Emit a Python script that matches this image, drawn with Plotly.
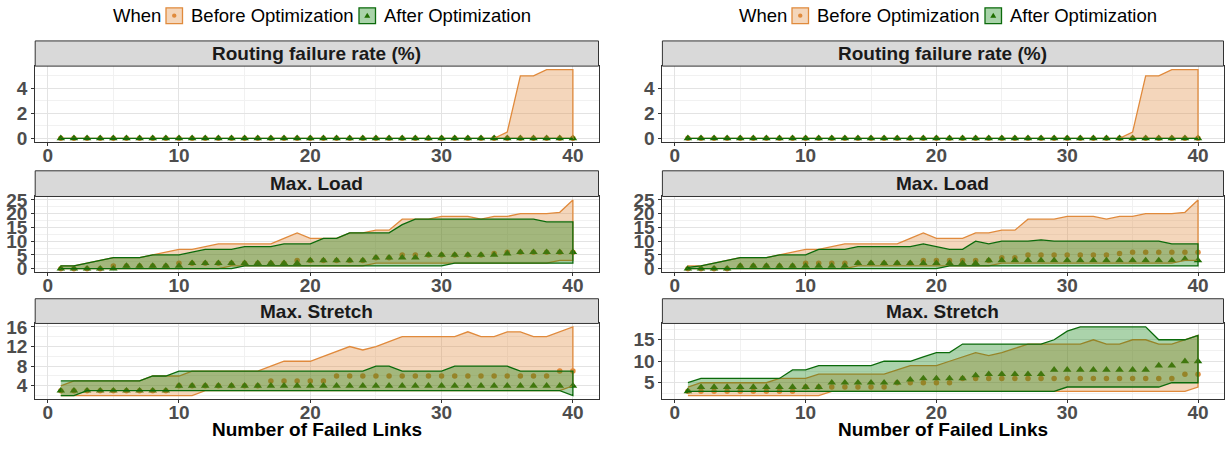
import plotly.graph_objects as go
from plotly.subplots import make_subplots

# ---------------- data ----------------
failed_links = list(range(1, 41))

# Routing failure rate (%) -- same in both panels
rf_before_min = [0, 0, 0, 0, 0, 0, 0, 0, 0, 0, 0, 0, 0, 0, 0, 0, 0, 0, 0, 0,
                 0, 0, 0, 0, 0, 0, 0, 0, 0, 0, 0, 0, 0, 0, 0, 0, 0, 0, 0, 0]
rf_before_max = [0, 0, 0, 0, 0, 0, 0, 0, 0, 0, 0, 0, 0, 0, 0, 0, 0, 0, 0, 0,
                 0, 0, 0, 0, 0, 0, 0, 0, 0, 0, 0, 0, 0, 0, 0.5, 5, 5, 5.5, 5.5, 5.5]
rf_before_med = [0, 0, 0, 0, 0, 0, 0, 0, 0, 0, 0, 0, 0, 0, 0, 0, 0, 0, 0, 0,
                 0, 0, 0, 0, 0, 0, 0, 0, 0, 0, 0, 0, 0, 0, 0, 0, 0, 0, 0, 0]
rf_after_min = [0, 0, 0, 0, 0, 0, 0, 0, 0, 0, 0, 0, 0, 0, 0, 0, 0, 0, 0, 0,
                0, 0, 0, 0, 0, 0, 0, 0, 0, 0, 0, 0, 0, 0, 0, 0, 0, 0, 0, 0]
rf_after_max = [0, 0, 0, 0, 0, 0, 0, 0, 0, 0, 0, 0, 0, 0, 0, 0, 0, 0, 0, 0,
                0, 0, 0, 0, 0, 0, 0, 0, 0, 0, 0, 0, 0, 0, 0, 0, 0, 0, 0, 0]
rf_after_med = [0, 0, 0, 0, 0, 0, 0, 0, 0, 0, 0, 0, 0, 0, 0, 0, 0, 0, 0, 0,
                0, 0, 0, 0, 0, 0, 0, 0, 0, 0, 0, 0, 0, 0, 0, 0, 0, 0, 0, 0]

# Max. Load -- before optimization (same in both panels)
load_before_min = [0, 0, 0, 0, 0, 0, 0, 0, 0, 0, 0, 0, 0, 1, 1, 1, 1, 1, 1, 1,
                   1, 1, 1, 1, 2, 2, 2, 2, 2, 2, 2, 2, 2, 2, 2, 2, 2, 2, 3, 3]
load_before_max = [1, 1, 2, 3, 4, 4, 4, 5, 6, 7, 7, 8, 9, 9, 9, 9, 9, 11, 13, 11,
                   11, 11, 13, 13, 14, 14, 18, 18, 18, 19, 19, 19, 18, 19, 19, 20, 20, 20, 20.5, 25]
load_before_med = [0, 0, 0, 0, 1, 1, 1, 1, 1, 2, 2, 2, 2, 2, 2, 2, 2, 2, 3, 3,
                   3, 3, 3, 3, 4, 4, 5, 5, 5, 5, 5, 5, 5, 5.5, 6, 6, 6, 6, 6, 6]

# Max. Load -- after optimization, left panel
load_after_min_L = [0, 0, 0, 0, 0, 0, 0, 0, 0, 0, 0, 0, 0, 0, 1, 1, 1, 1, 1, 1,
                    1, 1, 1, 1, 1, 1, 1, 1, 1, 1, 2, 2, 2, 2, 2, 2, 2, 2, 2, 2]
load_after_max_L = [1, 1, 2, 3, 4, 4, 4, 5, 5, 5, 6, 7, 7, 7, 8, 8, 8, 9, 9, 9,
                    11, 11, 13, 13, 13, 13, 16, 18, 18, 18, 18, 18, 18, 18, 18, 18, 18, 17, 17, 17]
load_after_med_L = [0, 0, 0, 0, 0, 1, 1, 1, 1, 1, 2, 2, 2, 2, 2, 2, 2, 2, 2, 3,
                    3, 3, 3, 3, 4, 4, 4, 4, 5, 5, 5, 5, 5, 5, 5.5, 6, 6, 6, 6, 6]

# Max. Load -- after optimization, right panel
load_after_min_R = [0, 0, 0, 0, 0, 0, 0, 0, 0, 0, 0, 0, 0, 0, 0, 0, 0, 0, 0, 0,
                    1, 1, 1, 1, 1, 1, 1, 1, 1, 1, 1, 1, 1, 1, 1, 1, 1, 1, 1, 1]
load_after_max_R = [0.5, 1, 2, 3, 4, 4, 4, 5, 5, 5, 7, 7, 7, 8, 8, 8, 8, 8, 9, 8,
                    7, 7, 10, 9, 10, 10, 10, 10.5, 10, 10, 10, 10, 10, 10, 10, 10, 10, 9, 9, 9]
load_after_med_R = [0, 0, 0, 0, 1, 1, 1, 1, 1, 1, 1, 1, 1, 2, 2, 2, 2, 2, 2, 2,
                    2, 2, 2, 3, 3, 3, 3, 3, 3, 3, 3, 3, 3, 3, 3, 3, 3, 3, 3.5, 3]

# Max. Stretch -- before optimization (same in both panels)
str_before_min = [2, 2, 2, 2, 2, 2, 2, 2, 2, 2, 2, 3, 3, 3, 3, 3, 3, 3, 3, 3,
                  3, 3, 3, 3, 3, 3, 3, 3, 3, 3, 3, 3, 3, 3, 3, 3, 3, 3, 3, 4]
str_before_max = [4, 5, 5, 5, 5, 5, 5, 6, 6, 6, 7, 7, 7, 7, 7, 7, 8, 9, 9, 9,
                  10, 11, 12, 11.3, 12, 13, 14, 14, 14, 14, 14, 15, 14, 14, 15, 15, 14, 14, 15, 16]
str_before_med = [3, 3, 3, 3, 3, 3, 3, 3, 3, 4, 4, 4, 4, 4, 4, 4, 5, 5, 5, 5,
                  5, 6, 6, 6, 6, 6, 6, 6, 6, 6, 6, 6, 6, 6, 6, 6, 6, 6, 7, 7]

# Max. Stretch -- after optimization, left panel
str_after_min_L = [2, 2, 3, 3, 3, 3, 3, 3, 3, 3, 3, 3, 3, 3, 3, 3, 3, 3, 3, 3,
                   3, 3, 3, 3, 3, 3, 3, 3, 3, 3, 3, 3, 3, 3, 3, 3, 3, 3, 3, 2]
str_after_max_L = [5, 5, 5, 5, 5, 5, 5, 6, 6, 7, 7, 7, 7, 7, 7, 7, 7, 7, 7, 7,
                   7, 7, 7, 7, 8, 8, 7, 7, 7, 7, 8, 8, 8, 8, 8, 7, 7, 7, 7, 7]
str_after_med_L = [3, 3, 3, 3, 3, 3, 3, 3, 3, 4, 4, 4, 4, 4, 4, 4, 4, 4, 4, 4,
                   4, 4, 4, 4, 4, 4, 4, 4, 4, 4, 4, 4, 4, 4, 4, 4, 4, 4, 4, 4]

# Max. Stretch -- after optimization, right panel
str_after_min_R = [3, 3, 3, 3, 3, 3, 3, 3, 3, 3, 3, 3, 3, 3, 3, 3, 3, 3, 3, 3,
                   3, 3, 3, 3, 3, 3, 3, 3, 3, 4, 4, 4, 4, 4, 4, 4, 4, 5, 5, 5]
str_after_max_R = [5, 6, 6, 6, 6, 6, 6, 6, 8, 8, 9, 9, 9, 9, 9, 10, 10, 10, 11, 12,
                   12, 14, 14, 14, 14, 14, 14, 14, 15, 17, 18, 18, 18, 18, 18, 18, 15, 15, 15, 16]
str_after_med_R = [3, 4, 4, 4, 4, 4, 4, 4, 4, 4, 4, 5, 5, 5, 5, 5, 5, 5.7, 6, 6,
                   6, 6, 6.7, 7, 7, 7, 7, 7, 8, 8, 8, 8, 8, 8, 8, 8, 9, 9, 10, 10]

facet_titles = ["Routing failure rate (%)", "Max. Load", "Max. Stretch"]
legend_title = "When"
series_names = ["Before Optimization", "After Optimization"]
x_title = "Number of Failed Links"

# ---------------- style ----------------
FONT = "Liberation Sans"
OR_LINE = "#E08A3C"
OR_FILL = "rgba(224,138,60,0.35)"
OR_KEY_FILL = "#F4D6BB"
GR_LINE = "#0B6A0B"
GR_FILL = "rgba(0,120,0,0.33)"
GR_KEY_FILL = "#A9D3A9"
TRI_COLOR = "#1F6E00"

W, H = 1228, 455

def py(px):
    return 1 - px / H

def pxx(px):
    return px / W

x_dom = [[35.2 / W, 598.5 / W], [662.4 / W, 1223.5 / W]]
rows_px = [(35.0, 61.0, 139.0), (169.0, 195.5, 273.5), (301.0, 326.5, 404.5)]

panels = [
    [  # left
        (rf_before_min, rf_before_max, rf_before_med, rf_after_min, rf_after_max, rf_after_med),
        (load_before_min, load_before_max, load_before_med, load_after_min_L, load_after_max_L, load_after_med_L),
        (str_before_min, str_before_max, str_before_med, str_after_min_L, str_after_max_L, str_after_med_L),
    ],
    [  # right
        (rf_before_min, rf_before_max, rf_before_med, rf_after_min, rf_after_max, rf_after_med),
        (load_before_min, load_before_max, load_before_med, load_after_min_R, load_after_max_R, load_after_med_R),
        (str_before_min, str_before_max, str_before_med, str_after_min_R, str_after_max_R, str_after_med_R),
    ],
]

y_settings = [
    [dict(range=[-0.275, 5.775], dtick=2, minor=1),
     dict(range=[-1.25, 26.25], dtick=5, minor=2.5),
     dict(range=[1.3, 16.7], dtick=4, minor=2)],
    [dict(range=[-0.275, 5.775], dtick=2, minor=1),
     dict(range=[-1.25, 26.25], dtick=5, minor=2.5),
     dict(range=[1.2, 18.8], dtick=5, minor=2.5)],
]

fig = make_subplots(rows=3, cols=2)

xs = failed_links
for c in range(2):
    for r in range(3):
        bmin, bmax, bmed, amin, amax, amed = panels[c][r]
        row, col = r + 1, c + 1
        fig.add_trace(go.Scatter(x=xs, y=bmed, mode="markers",
                                 marker=dict(symbol="circle", size=5.5, color=OR_LINE),
                                 showlegend=False, hoverinfo="skip"), row=row, col=col)
        fig.add_trace(go.Scatter(x=xs, y=amed, mode="markers",
                                 marker=dict(symbol="triangle-up", size=7.5, color=TRI_COLOR),
                                 showlegend=False, hoverinfo="skip"), row=row, col=col)
        fig.add_trace(go.Scatter(x=xs + xs[::-1], y=bmax + bmin[::-1], mode="lines",
                                 fill="toself", fillcolor=OR_FILL,
                                 line=dict(color=OR_LINE, width=1.3),
                                 showlegend=False, hoverinfo="skip"), row=row, col=col)
        fig.add_trace(go.Scatter(x=xs + xs[::-1], y=amax + amin[::-1], mode="lines",
                                 fill="toself", fillcolor=GR_FILL,
                                 line=dict(color=GR_LINE, width=1.3),
                                 showlegend=False, hoverinfo="skip"), row=row, col=col)

        top, ptop, pbot = rows_px[r]
        ys = y_settings[c][r]
        fig.update_xaxes(domain=x_dom[c], range=[-0.95, 41.95], tickmode="linear", tick0=0, dtick=10,
                         showgrid=True, gridcolor="#E3E3E3", gridwidth=1.1,
                         minor=dict(dtick=5, tick0=0, showgrid=True, gridcolor="#F1F1F1", gridwidth=0.7),
                         showline=True, mirror=True, linecolor="#333333", linewidth=1,
                         ticks="outside", ticklen=3, tickcolor="#333333", tickwidth=1,
                         ticklabelstandoff=-7,
                         tickfont=dict(family=FONT, size=19, color="#4D4D4D", weight="bold"),
                         zeroline=False, row=row, col=col)
        fig.update_yaxes(domain=[py(pbot), py(ptop)], range=ys["range"], tickmode="linear", tick0=0,
                         dtick=ys["dtick"],
                         showgrid=True, gridcolor="#E3E3E3", gridwidth=1.1,
                         minor=dict(dtick=ys["minor"], tick0=0, showgrid=True, gridcolor="#F1F1F1", gridwidth=0.7),
                         showline=True, mirror=True, linecolor="#333333", linewidth=1,
                         ticks="outside", ticklen=3, tickcolor="#333333", tickwidth=1,
                         tickfont=dict(family=FONT, size=19, color="#4D4D4D", weight="bold"),
                         zeroline=False, row=row, col=col)

        # facet strip
        fig.add_shape(type="rect", xref="paper", yref="paper",
                      x0=x_dom[c][0], x1=x_dom[c][1], y0=py(ptop), y1=py(top),
                      fillcolor="#D9D9D9", line=dict(color="#333333", width=1), layer="above")
        fig.add_annotation(xref="paper", yref="paper", x=(x_dom[c][0] + x_dom[c][1]) / 2,
                           y=py((top + ptop) / 2), text="<b>%s</b>" % facet_titles[r], showarrow=False,
                           font=dict(family=FONT, size=19, color="#1A1A1A"),
                           xanchor="center", yanchor="middle")

    # x-axis title
    fig.add_annotation(xref="paper", yref="paper", x=(x_dom[c][0] + x_dom[c][1]) / 2,
                       y=py(435.5), text="<b>%s</b>" % x_title, showarrow=False,
                       font=dict(family=FONT, size=19, color="black"),
                       xanchor="center", yanchor="middle")

    # legend (manual, one per panel)
    off = 626 * c
    ly = 9.0
    fig.add_annotation(xref="paper", yref="paper", x=pxx(111 + off), y=py(ly), text=legend_title,
                       showarrow=False, font=dict(family=FONT, size=18.5, color="black"),
                       xanchor="left", yanchor="middle")
    for k, (bx0, tx, fillc, linec) in enumerate([(166, 189, OR_KEY_FILL, OR_LINE),
                                                 (359, 382, GR_KEY_FILL, GR_LINE)]):
        fig.add_shape(type="rect", xref="paper", yref="paper",
                      x0=pxx(bx0 + off), x1=pxx(bx0 + 16.5 + off), y0=py(ly + 8.2), y1=py(ly - 8.2),
                      fillcolor=fillc, line=dict(color=linec, width=1.3))
        cx = bx0 + 8.25 + off
        if k == 0:
            fig.add_shape(type="circle", xref="paper", yref="paper",
                          x0=pxx(cx - 2.2), x1=pxx(cx + 2.2), y0=py(ly + 2.2), y1=py(ly - 2.2),
                          fillcolor=OR_LINE, line=dict(width=0))
        else:
            path = "M %f %f L %f %f L %f %f Z" % (pxx(cx - 3), py(ly + 2.2), pxx(cx + 3), py(ly + 2.2),
                                                  pxx(cx), py(ly - 3))
            fig.add_shape(type="path", xref="paper", yref="paper", path=path,
                          fillcolor=TRI_COLOR, line=dict(width=0))
        fig.add_annotation(xref="paper", yref="paper", x=pxx(tx + off), y=py(ly), text=series_names[k],
                           showarrow=False, font=dict(family=FONT, size=18.5, color="black"),
                           xanchor="left", yanchor="middle")

fig.update_layout(width=W, height=H, margin=dict(l=0, r=0, t=0, b=0),
                  plot_bgcolor="white", paper_bgcolor="white", showlegend=False,
                  font=dict(family=FONT))

fig.write_html("out.html", config={"displayModeBar": False},
               post_script="document.body.style.margin='0px';")
